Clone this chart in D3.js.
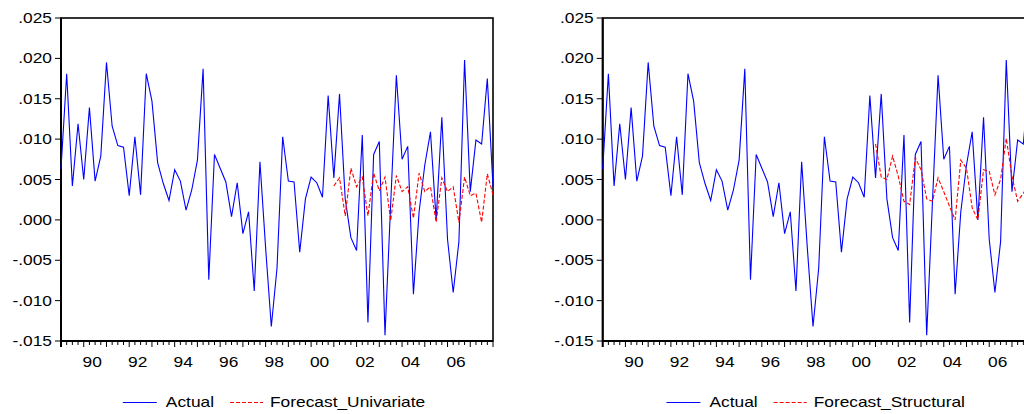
<!DOCTYPE html>
<html><head><meta charset="utf-8">
<script src="https://cdn.jsdelivr.net/npm/d3@7"></script>
<style>html,body{margin:0;padding:0;background:#fff;}svg{display:block;}</style>
</head><body>
<svg id="chart" width="1024" height="414"></svg>
<script>
// ---- data (quarterly, 1989Q1 .. 2008Q1) ----
const startYear = 1989;
const quarters = [];
for (let i = 0; i < 77; i++) quarters.push((startYear + Math.floor(i / 4)) + "Q" + (i % 4 + 1));

const actual = [
 .0063,.0181,.0042,.0119,.0050,.0139,.0048,.0079,.0195,.0116,
 .0092,.0090,.0030,.0103,.0031,.0181,.0147,.0071,.0045,.0024,
 .0062,.0048,.0012,.0037,.0074,.0187,-.0074,.0081,.0064,.0047,
 .0004,.0046,-.0017,.0010,-.0088,.0072,-.0035,-.0132,-.0060,.0103,
 .0048,.0047,-.0040,.0026,.0053,.0046,.0028,.0154,.0052,.0156,
 .0026,-.0022,-.0038,.0105,-.0127,.0081,.0097,-.0143,.0020,.0179,
 .0075,.0091,-.0092,.0010,.0068,.0109,.0000,.0127,-.0024,-.0090,
 -.0027,.0198,.0035,.0099,.0094,.0175,.0041
];
const forecastStart = "2001Q1";
const forecastUnivariate = [
 .0042,.0052,.0005,.0064,.0041,.0053,.0005,.0058,.0036,.0053,
 -.0001,.0055,.0035,.0041,.0002,.0058,.0035,.0041,-.0003,.0052,
 .0035,.0041,-.0003,.0053,.0030,.0033,-.0003,.0057,.0031
];
const forecastStructural = [
 .0094,.0053,.0050,.0079,.0054,.0023,.0019,.0077,.0062,.0026,
 .0023,.0052,.0035,.0017,.0000,.0074,.0064,.0015,.0000,.0062,
 .0060,.0031,.0050,.0101,.0054,.0023,.0033,.0045,.0040
];
const yTicks = [-.015,-.010,-.005,.000,.005,.010,.015,.020,.025];
const yTickLabels = ["-.015","-.010","-.005",".000",".005",".010",".015",".020",".025"];
const yearLabels = ["90","92","94","96","98","00","02","04","06"];
const yearValues = [1990,1992,1994,1996,1998,2000,2002,2004,2006];
const panels = [
  {left: 61, name: "Forecast_Univariate", forecast: forecastUnivariate},
  {left: 602.7, name: "Forecast_Structural", forecast: forecastStructural}
];

// ---- drawing ----
const svg = d3.select("#chart");
const W = 432, plotTop = 18, plotBottom = 341;
const FONT = "'Liberation Sans', Arial, sans-serif";
const SX = 1.24;
const y = d3.scaleLinear().domain([-0.015, 0.025]).range([plotBottom, plotTop]);
const fStart = quarters.indexOf(forecastStart);

function txt(g, x, yy, s, anchor) {
  const t = g.append("text")
    .attr("transform", `translate(${x},${yy}) scale(${SX},1)`)
    .attr("font-family", FONT).attr("font-size", 14).attr("fill", "#000")
    .attr("text-anchor", anchor || "start").text(s);
  return t;
}

panels.forEach(p => {
  const g = svg.append("g");
  const x = d3.scaleLinear().domain([0, quarters.length - 1]).range([p.left, p.left + W]);

  // frame
  g.append("rect").attr("x", p.left).attr("y", plotTop).attr("width", W).attr("height", plotBottom - plotTop)
    .attr("fill", "none").attr("stroke", "#000").attr("stroke-width", 1.6);

  // y ticks & labels
  yTicks.forEach((v, i) => {
    g.append("line").attr("x1", p.left - 6).attr("x2", p.left).attr("y1", y(v)).attr("y2", y(v))
      .attr("stroke", "#000").attr("stroke-width", 1);
    txt(g, p.left - 9, y(v) + 5, yTickLabels[i], "end");
  });

  // x ticks
  quarters.forEach((q, i) => {
    const major = q.endsWith("Q1");
    g.append("line").attr("x1", x(i)).attr("x2", x(i)).attr("y1", plotBottom)
      .attr("y2", plotBottom + (major ? 6 : 4)).attr("stroke", "#000").attr("stroke-width", 1);
  });
  yearValues.forEach((yr, i) => {
    const idx = quarters.indexOf(yr + "Q1") + 1.5;
    txt(g, x(idx), 367, yearLabels[i], "middle");
  });

  // axis lines (thicker left/bottom)
  g.append("line").attr("x1", p.left).attr("x2", p.left).attr("y1", plotTop).attr("y2", plotBottom + 6)
    .attr("stroke", "#000").attr("stroke-width", 2);
  g.append("line").attr("x1", p.left).attr("x2", p.left + W).attr("y1", plotBottom).attr("y2", plotBottom)
    .attr("stroke", "#000").attr("stroke-width", 2);

  const line = d3.line().x(d => x(d[0])).y(d => y(d[1]));
  g.append("path").datum(actual.map((v, i) => [i, v])).attr("d", line)
    .attr("fill", "none").attr("stroke", "#0000ff").attr("stroke-width", 1.1);
  g.append("path").datum(p.forecast.map((v, i) => [fStart + i, v])).attr("d", line)
    .attr("fill", "none").attr("stroke", "#ff0000").attr("stroke-width", 1.1)
    .attr("stroke-dasharray", "4,2");

  // legend
  const lg = g.append("g");
  const ly = 402.5;
  lg.append("line").attr("x1", 0).attr("x2", 34).attr("y1", ly).attr("y2", ly)
    .attr("stroke", "#0000ff").attr("stroke-width", 1.1);
  const t1 = txt(lg, 43, 407, "Actual");
  const w1 = t1.node().getComputedTextLength() * SX;
  const rx = 43 + w1 + 16;
  lg.append("line").attr("x1", rx).attr("x2", rx + 33).attr("y1", ly).attr("y2", ly)
    .attr("stroke", "#ff0000").attr("stroke-width", 1.1).attr("stroke-dasharray", "4,2");
  const t2 = txt(lg, rx + 40, 407, p.name);
  const w2 = t2.node().getComputedTextLength() * SX;
  const total = rx + 40 + w2;
  const cx = p.left + W / 2 - 3;
  lg.attr("transform", `translate(${cx - total / 2},0)`);
});
</script>
</body></html>
